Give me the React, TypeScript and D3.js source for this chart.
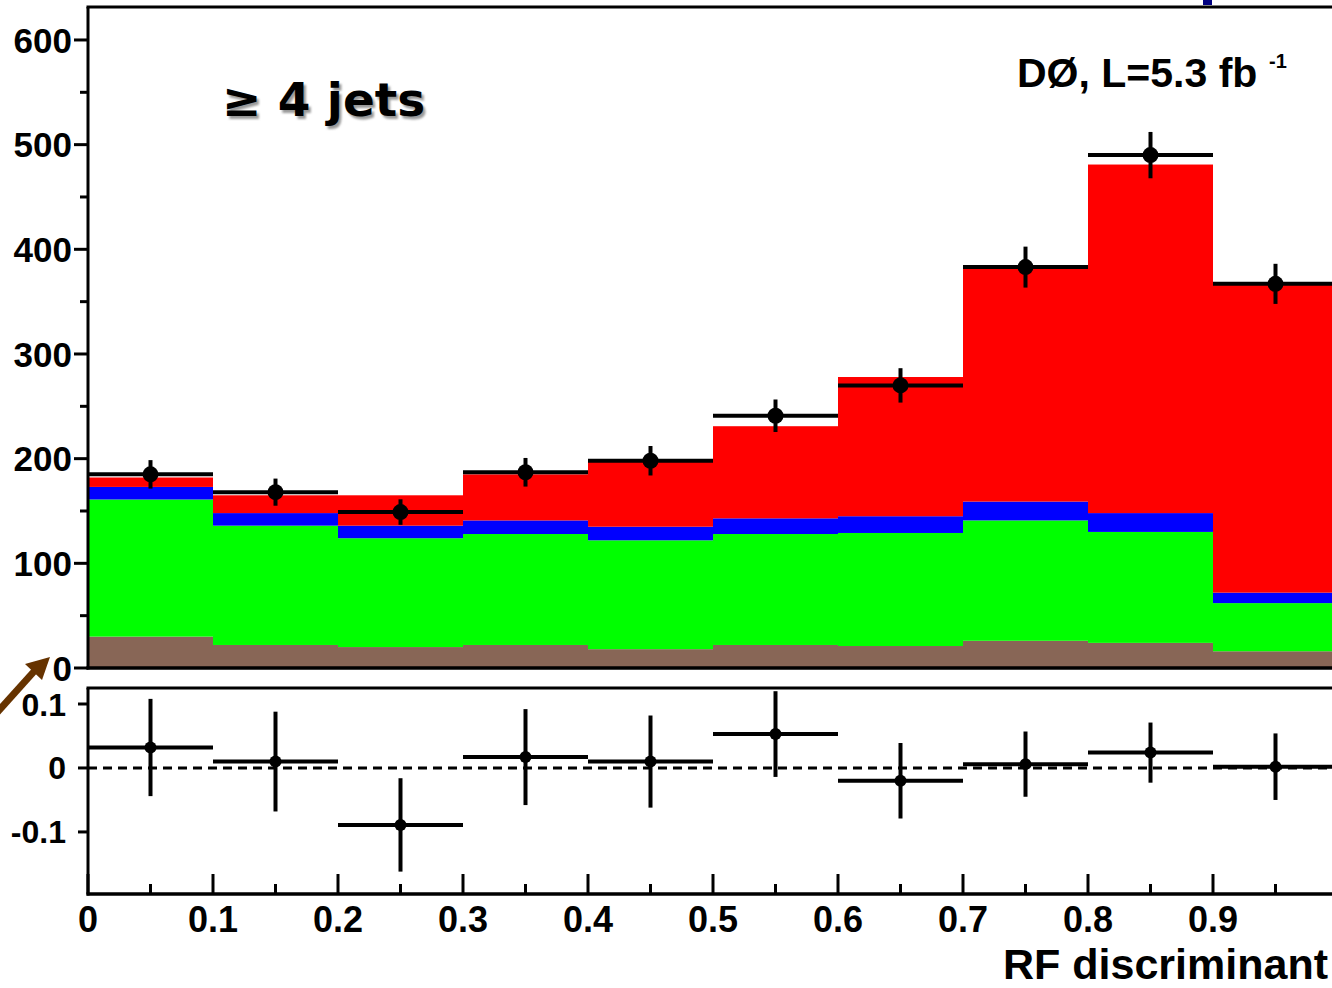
import React from "react";
import * as d3 from "d3";

// Bin edges of the RF discriminant histogram (10 bins on [0,1])
const binEdges = [0, 0.1, 0.2, 0.3, 0.4, 0.5, 0.6, 0.7, 0.8, 0.9, 1.0];

// Stacked expectations per bin (bottom to top)
const brownBkg = [30, 22, 20, 22, 18, 22, 21, 26, 24, 16];
const greenBkg = [131, 114, 104, 106, 104, 106, 108, 115, 106, 46];
const blueBkg = [12, 12, 12, 13, 13, 15, 16, 18, 18, 10];
const redSignal = [9, 17, 29, 44, 62, 88, 133, 224, 333, 294];

// Observed events per bin
const dataCounts = [185, 168, 149, 187, 198, 241, 270, 383, 490, 367];

// Relative difference (data - expectation)/expectation and its uncertainty
const ratioValues = [0.032, 0.01, -0.089, 0.017, 0.01, 0.053, -0.02, 0.006, 0.024, 0.002];
const ratioErrors = [0.076, 0.078, 0.073, 0.075, 0.072, 0.067, 0.059, 0.051, 0.047, 0.052];

// Axis ticks
const topMajorTicks = [0, 100, 200, 300, 400, 500, 600];
const topMinorTicks = [50, 150, 250, 350, 450, 550];
const bottomYTicks = [0.1, 0, -0.1];
const xMajorTicks = [0, 0.1, 0.2, 0.3, 0.4, 0.5, 0.6, 0.7, 0.8, 0.9];
const xMinorTicks = [0.05, 0.15, 0.25, 0.35, 0.45, 0.55, 0.65, 0.75, 0.85, 0.95];

const layerKeys = ["brown", "green", "blue", "red"];
const layerColors: Record<string, string> = {
  brown: "#886656",
  green: "#00ff00",
  blue: "#0000ff",
  red: "#ff0000",
};

const W = 1332;
const H = 988;
const FONT = "'Liberation Sans', Arial, Helvetica, sans-serif";

export default function App() {
  const x = d3.scaleLinear().domain([0, 1]).range([88, 1338]);
  const yTop = d3.scaleLinear().domain([0, 631.5]).range([668, 7]);
  const yBot = d3.scaleLinear().domain([-0.197, 0.125]).range([894, 688]);

  const rows = binEdges.slice(0, -1).map((lo, i) => ({
    lo,
    hi: binEdges[i + 1],
    brown: brownBkg[i],
    green: greenBkg[i],
    blue: blueBkg[i],
    red: redSignal[i],
  }));
  const stacked = d3.stack<any>().keys(layerKeys)(rows);

  const fmtX = (v: number) => (v === 0 ? "0" : d3.format(".1f")(v));
  const fmtR = (v: number) => (v === 0 ? "0" : d3.format(".1f")(v).replace("−", "-"));

  return (
    <svg
      width={W}
      height={H}
      viewBox={`0 0 ${W} ${H}`}
      style={{ position: "absolute", left: 0, top: 0, background: "#fff" }}
    >
      <defs>
        <filter id="soft" x="-10%" y="-10%" width="120%" height="120%">
          <feGaussianBlur stdDeviation="1.2" />
        </filter>
      </defs>
      <rect x={0} y={0} width={W} height={H} fill="#fff" />

      {/* stacked histogram */}
      {stacked.map((layer) => (
        <g key={layer.key}>
          {layer.map((d, i) => (
            <rect
              key={i}
              x={x(rows[i].lo)}
              width={x(rows[i].hi) - x(rows[i].lo)}
              y={yTop(d[1])}
              height={yTop(d[0]) - yTop(d[1])}
              fill={layerColors[layer.key]}
            />
          ))}
        </g>
      ))}

      {/* data points with horizontal bin-width bars and sqrt(N) errors */}
      {dataCounts.map((n, i) => {
        const cx = x((binEdges[i] + binEdges[i + 1]) / 2);
        const e = Math.sqrt(n);
        return (
          <g key={i}>
            <line x1={x(binEdges[i])} x2={x(binEdges[i + 1])} y1={yTop(n)} y2={yTop(n)} stroke="#000" strokeWidth={4} />
            <line x1={cx} x2={cx} y1={yTop(n + e)} y2={yTop(n - e)} stroke="#000" strokeWidth={4} />
            <circle cx={cx} cy={yTop(n)} r={8} fill="#000" />
          </g>
        );
      })}

      {/* top panel frame */}
      <line x1={88} x2={88} y1={7} y2={669.5} stroke="#000" strokeWidth={3} />
      <line x1={86.5} x2={1340} y1={7} y2={7} stroke="#000" strokeWidth={3} />
      <line x1={86.5} x2={1340} y1={668} y2={668} stroke="#000" strokeWidth={3.5} />
      {topMajorTicks.map((t) => (
        <g key={t}>
          <line x1={74} x2={88} y1={yTop(t)} y2={yTop(t)} stroke="#000" strokeWidth={3} />
          <text
            x={72}
            y={yTop(t)}
            dy="0.36em"
            textAnchor="end"
            fontFamily={FONT}
            fontWeight="bold"
            fontSize={35}
            fill="#000"
          >
            {t}
          </text>
        </g>
      ))}
      {topMinorTicks.map((t) => (
        <line key={t} x1={80} x2={88} y1={yTop(t)} y2={yTop(t)} stroke="#000" strokeWidth={3} />
      ))}

      {/* bottom panel: relative difference */}
      <line x1={x(0)} x2={1340} y1={yBot(0)} y2={yBot(0)} stroke="#000" strokeWidth={3} strokeDasharray="9 6" />
      {ratioValues.map((v, i) => {
        const cx = x((binEdges[i] + binEdges[i + 1]) / 2);
        const e = ratioErrors[i];
        return (
          <g key={i}>
            <line x1={x(binEdges[i])} x2={x(binEdges[i + 1])} y1={yBot(v)} y2={yBot(v)} stroke="#000" strokeWidth={4} />
            <line x1={cx} x2={cx} y1={yBot(v + e)} y2={yBot(v - e)} stroke="#000" strokeWidth={4} />
            <circle cx={cx} cy={yBot(v)} r={6} fill="#000" />
          </g>
        );
      })}
      <line x1={88} x2={88} y1={688} y2={895.5} stroke="#000" strokeWidth={3} />
      <line x1={86.5} x2={1340} y1={688} y2={688} stroke="#000" strokeWidth={3} />
      <line x1={86.5} x2={1340} y1={894} y2={894} stroke="#000" strokeWidth={3.5} />
      {bottomYTicks.map((t) => (
        <g key={t}>
          <line x1={78} x2={88} y1={yBot(t)} y2={yBot(t)} stroke="#000" strokeWidth={3} />
          <text
            x={66}
            y={yBot(t)}
            dy="0.36em"
            textAnchor="end"
            fontFamily={FONT}
            fontWeight="bold"
            fontSize={32}
            fill="#000"
          >
            {fmtR(t)}
          </text>
        </g>
      ))}
      {xMajorTicks.map((t) => (
        <g key={t}>
          <line x1={x(t)} x2={x(t)} y1={874} y2={894} stroke="#000" strokeWidth={3} />
          <text
            x={x(t)}
            y={932}
            textAnchor="middle"
            fontFamily={FONT}
            fontWeight="bold"
            fontSize={36}
            fill="#000"
          >
            {fmtX(t)}
          </text>
        </g>
      ))}
      {xMinorTicks.map((t) => (
        <line key={t} x1={x(t)} x2={x(t)} y1={884} y2={894} stroke="#000" strokeWidth={3} />
      ))}
      <text
        x={1328}
        y={979}
        textAnchor="end"
        fontFamily={FONT}
        fontWeight="bold"
        fontSize={43}
        fill="#000"
      >
        RF discriminant
      </text>

      {/* labels */}
      <text
        x={224.5}
        y={118.5}
        fontFamily="'DejaVu Sans', sans-serif"
        fontWeight="bold"
        fontSize={47}
        fill="#9a9a9a"
        filter="url(#soft)"
      >
        ≥ 4 jets
      </text>
      <text x={222} y={116} fontFamily="'DejaVu Sans', sans-serif" fontWeight="bold" fontSize={47} fill="#000">
        ≥ 4 jets
      </text>
      <text x={1017} y={87} fontFamily={FONT} fontWeight="bold" fontSize={41} fill="#000">
        DØ, L=5.3 fb
      </text>
      <text x={1269} y={68} fontFamily={FONT} fontWeight="bold" fontSize={20} fill="#000">
        -1
      </text>

      {/* arrow marker near the origin */}
      <line x1={-6} y1={716} x2={38} y2={667} stroke="#663300" strokeWidth={7} />
      <path d="M 50 657 L 25 664 L 42 680 Z" fill="#663300" />

      {/* fragment of an element clipped at the top edge */}
      <rect x={1203} y={0} width={9} height={5} fill="#000080" />
    </svg>
  );
}
